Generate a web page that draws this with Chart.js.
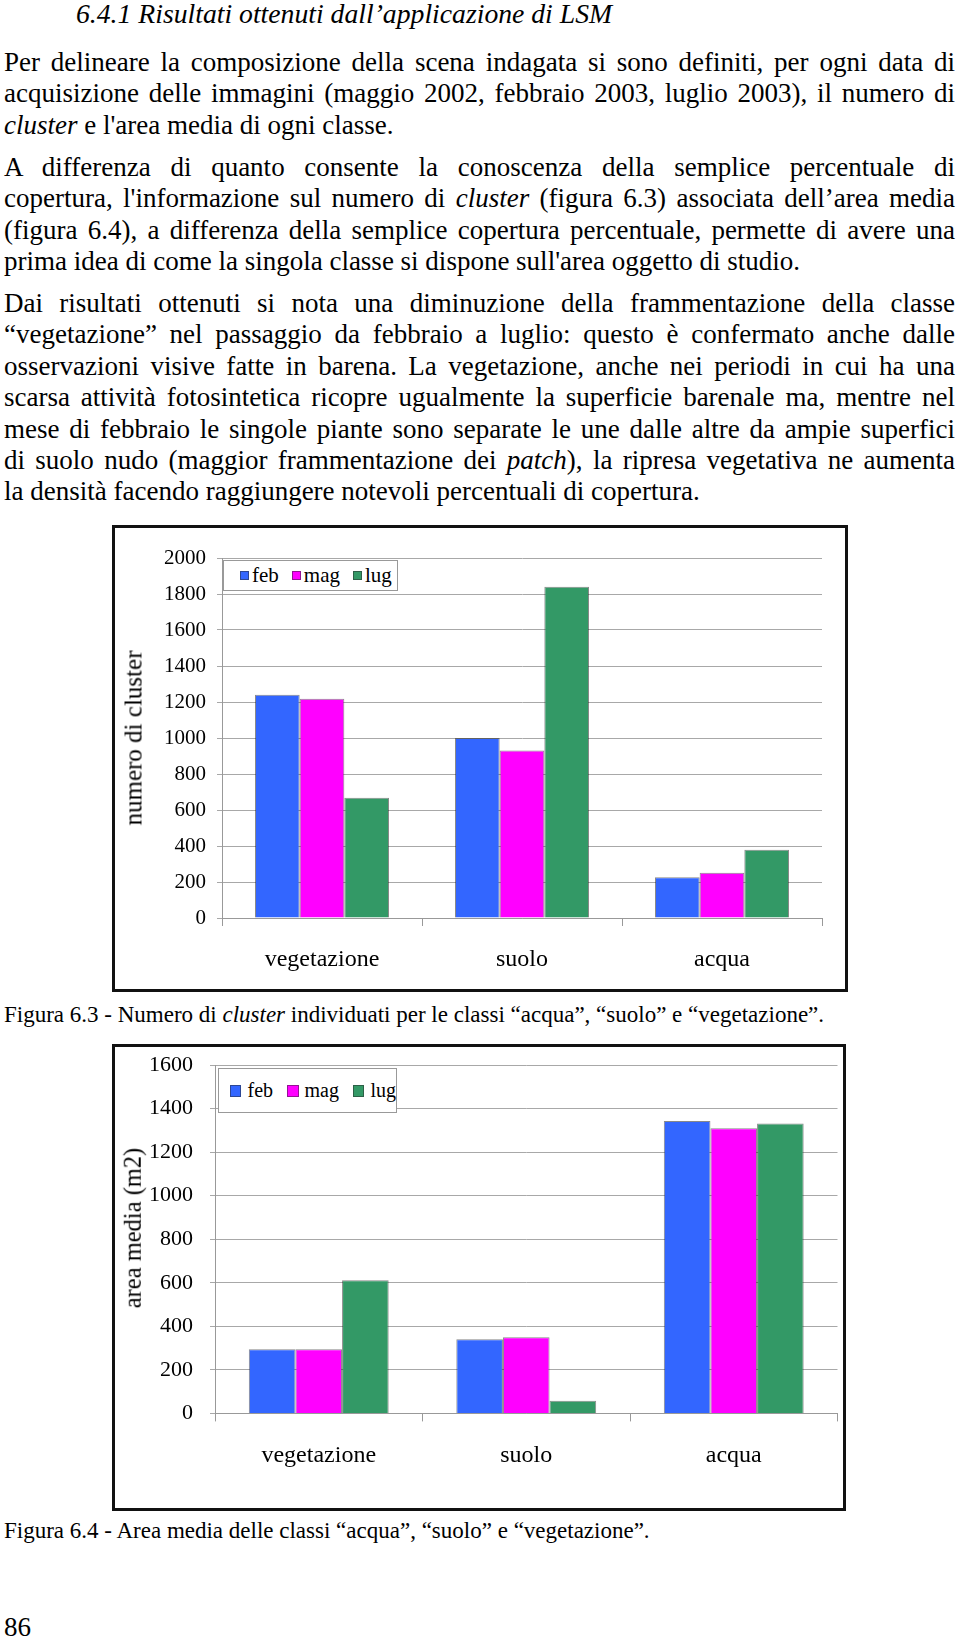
<!DOCTYPE html>
<html>
<head>
<meta charset="utf-8">
<script src="https://cdn.jsdelivr.net/npm/chart.js@4.4.1/dist/chart.umd.min.js"></script>
<style>
  body { margin: 0; background: #fff; width: 960px; height: 1641px; position: relative; overflow: hidden;
         font-family: "Liberation Serif", "Times New Roman", serif; color: #000; }
  .h { position: absolute; left: 76px; top: -2px; font-size: 27.7px; font-style: italic; line-height: 32px; white-space: nowrap; }
  .p { position: absolute; left: 4px; width: 951px; font-size: 27px; line-height: 31.4px; }
  .p span { display: block; white-space: nowrap; text-align: justify; text-align-last: justify; }
  .p span.last { text-align-last: left; }
  .cap { position: absolute; left: 4px; font-size: 23px; line-height: 27px; white-space: nowrap; }
  .box { position: absolute; border: 3px solid #111; box-sizing: border-box; }
  .box canvas { position: absolute; left: 0; top: 0; }
  .leg { position: absolute; border: 1px solid #999; background: #fff; box-sizing: border-box;
         display: flex; align-items: center; white-space: nowrap; }
  .leg i { display: inline-block; box-sizing: border-box; }
  .ytitle { position: absolute; white-space: nowrap; line-height: 1; transform: translate(-50%, -50%) rotate(-90deg); }
</style>
</head>
<body>
<div class="h">6.4.1 Risultati ottenuti dall’applicazione di LSM</div>

<div class="p" style="top:47px">
  <span>Per delineare la composizione della scena indagata si sono definiti, per ogni data di</span>
  <span>acquisizione delle immagini (maggio 2002, febbraio 2003, luglio 2003), il numero di</span>
  <span class="last"><i>cluster</i> e l'area media di ogni classe.</span>
</div>
<div class="p" style="top:152px">
  <span>A differenza di quanto consente la conoscenza della semplice percentuale di</span>
  <span>copertura, l'informazione sul numero di <i>cluster</i> (figura 6.3) associata dell’area media</span>
  <span>(figura 6.4), a differenza della semplice copertura percentuale, permette di avere una</span>
  <span class="last">prima idea di come la singola classe si dispone sull'area oggetto di studio.</span>
</div>
<div class="p" style="top:288px">
  <span>Dai risultati ottenuti si nota una diminuzione della frammentazione della classe</span>
  <span>“vegetazione” nel passaggio da febbraio a luglio: questo è confermato anche dalle</span>
  <span>osservazioni visive fatte in barena. La vegetazione, anche nei periodi in cui ha una</span>
  <span>scarsa attività fotosintetica ricopre ugualmente la superficie barenale ma, mentre nel</span>
  <span>mese di febbraio le singole piante sono separate le une dalle altre da ampie superfici</span>
  <span>di suolo nudo (maggior frammentazione dei <i>patch</i>), la ripresa vegetativa ne aumenta</span>
  <span class="last">la densità facendo raggiungere notevoli percentuali di copertura.</span>
</div>

<div class="box" style="left:112px; top:525px; width:736px; height:467px">
  <canvas id="chart1" width="730" height="461"></canvas>
</div>
<div class="ytitle" id="yt1" style="left:133px; top:738px; font-size:25px"></div>
<div class="leg" id="leg1" style="left:223px; top:560px; width:175px; height:31px; padding-left:16px; font-size:21px"></div>
<div class="cap" style="top:1001px">Figura 6.3 - Numero di <i>cluster</i> individuati per le classi “acqua”, “suolo” e “vegetazione”.</div>

<div class="box" style="left:112px; top:1044px; width:734px; height:467px">
  <canvas id="chart2" width="728" height="461"></canvas>
</div>
<div class="ytitle" id="yt2" style="left:133px; top:1228px; font-size:24.5px"></div>
<div class="leg" id="leg2" style="left:218px; top:1068px; width:179px; height:45px; padding-left:11px; font-size:20px"></div>
<div class="cap" style="top:1517px">Figura 6.4 - Area media delle classi “acqua”, “suolo” e “vegetazione”.</div>

<div class="cap" style="top:1612px; font-size:27px; line-height:31px">86</div>

<script>
// classes and months
const categories = ['vegetazione', 'suolo', 'acqua'];
const months = ['feb', 'mag', 'lug'];
const monthColors = ['#3366FF', '#FF00FF', '#339966'];

// figura 6.3 - numero di cluster
const clusterFeb = [1240, 1000, 226];
const clusterMag = [1218, 930, 252];
const clusterLug = [668, 1840, 379];
const clusterMax = 2000;
const clusterTitle = 'numero di cluster';

// figura 6.4 - area media (m2)
const areaFeb = [295, 341, 1343];
const areaMag = [295, 350, 1309];
const areaLug = [612, 58, 1331];
const areaMax = 1600;
const areaTitle = 'area media (m2)';

const tickStep = 200;

Chart.defaults.font.family = "'Liberation Serif', 'Times New Roman', serif";
Chart.defaults.color = '#000';

function makeChart(id, series, yMax, o) {
    new Chart(document.getElementById(id), {
        type: 'bar',
        data: {
            labels: categories,
            datasets: series.map((vals, i) => ({
                label: months[i],
                data: vals,
                backgroundColor: monthColors[i],
                borderColor: 'rgba(40,40,40,0.55)',
                borderWidth: 1,
                barPercentage: 1.0,
                categoryPercentage: o.catPct
            }))
        },
        options: {
            responsive: false,
            animation: false,
            devicePixelRatio: 1,
            layout: { padding: { top: o.padTop, right: o.padRight, left: 0, bottom: 0 } },
            plugins: { legend: { display: false }, tooltip: { enabled: false } },
            scales: {
                x: {
                    grid: { drawOnChartArea: false, drawTicks: true, tickLength: 8, color: '#999', offset: true },
                    border: { color: '#999' },
                    ticks: { font: { size: o.catFont }, padding: o.catPad, color: '#000' },
                    afterFit: s => {
                        s.height = o.xHeight;
                        s.paddingLeft = 0; s.paddingRight = 0;
                    }
                },
                y: {
                    min: 0,
                    max: yMax,
                    ticks: { stepSize: tickStep, font: { size: o.tickFont }, padding: o.tickPad, color: '#000',
                             callback: v => String(v) },
                    grid: { color: '#a8a8a8', tickLength: 5, lineWidth: 1 },
                    border: { color: '#999' },
                    afterFit: s => {
                        s.width = o.yWidth;
                        s.paddingTop = 0; s.paddingBottom = 0;
                    }
                }
            }
        }
    });
}

function makeLegend(id, sq, gapIn, gapOut) {
    const el = document.getElementById(id);
    months.forEach((m, i) => {
        const sw = document.createElement('i');
        sw.style.width = sq + 'px';
        sw.style.height = sq + 'px';
        sw.style.background = monthColors[i];
        sw.style.border = '1px solid rgba(40,40,40,0.5)';
        sw.style.marginRight = gapIn + 'px';
        const t = document.createElement('span');
        t.textContent = m;
        if (i < months.length - 1) t.style.marginRight = gapOut + 'px';
        el.appendChild(sw);
        el.appendChild(t);
    });
}

makeChart('chart1', [clusterFeb, clusterMag, clusterLug], clusterMax,
    { catPct: 0.67, padTop: 30, padRight: 23, xHeight: 71, yWidth: 107, catFont: 24, catPad: 19, tickFont: 21, tickPad: 11 });
makeChart('chart2', [areaFeb, areaMag, areaLug], areaMax,
    { catPct: 0.674, padTop: 18, padRight: 5.5, xHeight: 94.6, yWidth: 100, catFont: 24, catPad: 20, tickFont: 22, tickPad: 17 });

document.getElementById('yt1').textContent = clusterTitle;
document.getElementById('yt2').textContent = areaTitle;

makeLegend('leg1', 9, 3, 13);
makeLegend('leg2', 12, 6, 14);
</script>
</body>
</html>
